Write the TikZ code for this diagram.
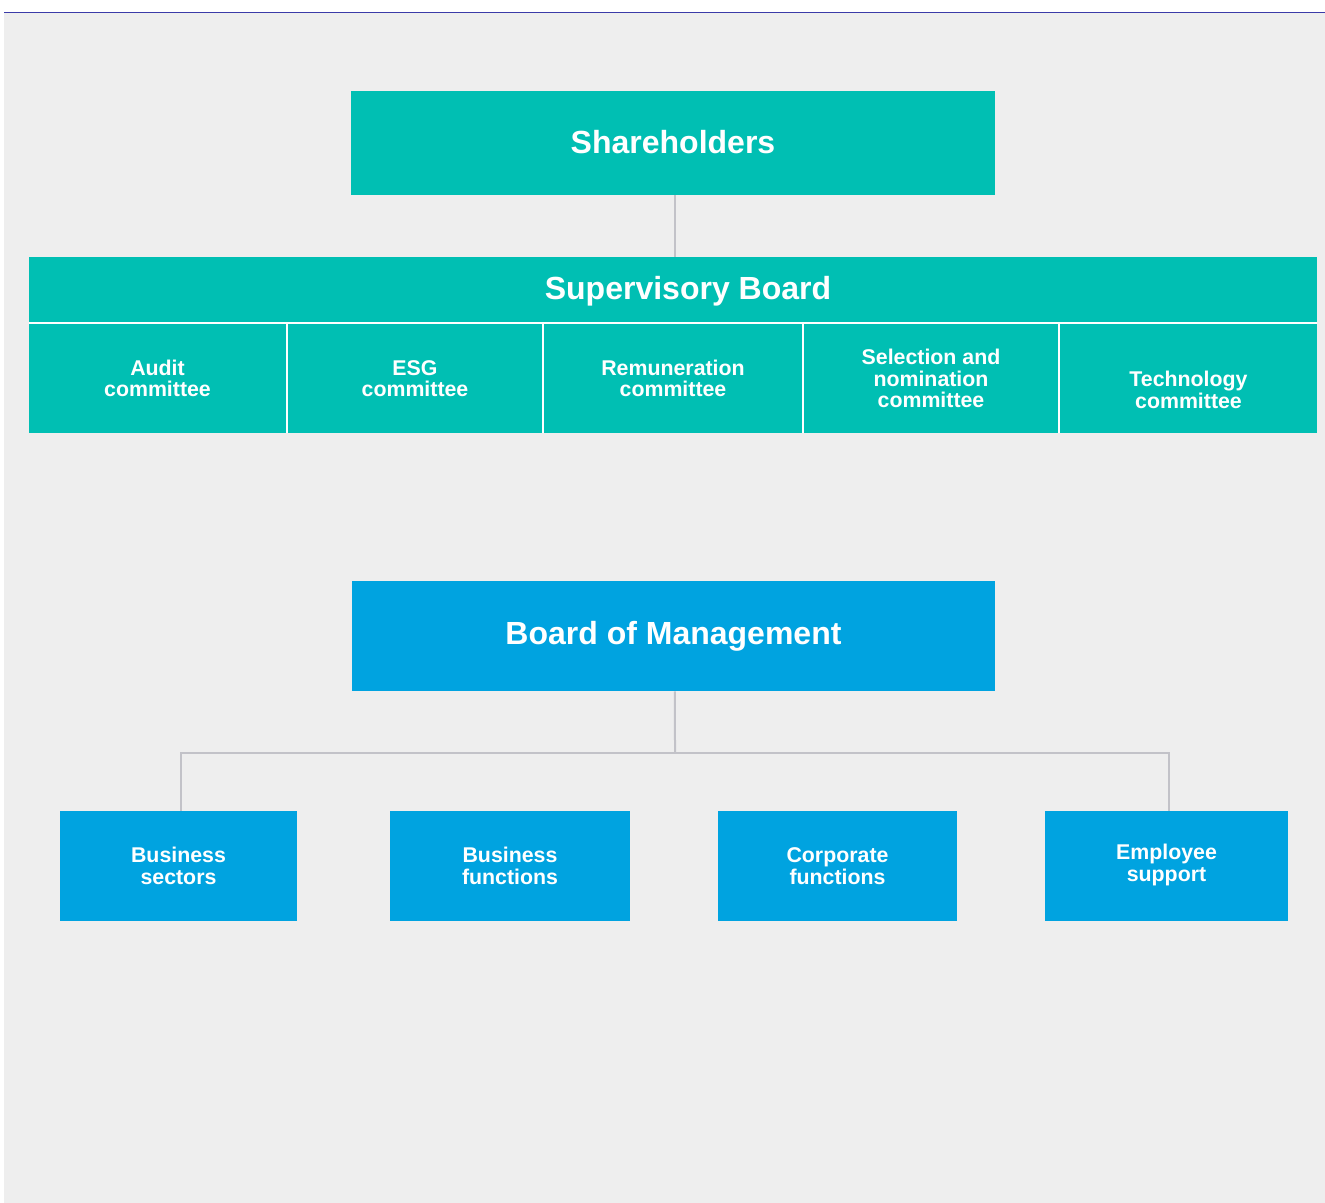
\documentclass[tikz,border=0pt]{standalone}
\usepackage{fontspec}
\setmainfont{Liberation Sans}
\definecolor{bgray}{HTML}{EEEEEE}
\definecolor{teal1}{HTML}{00BFB3}
\definecolor{blue1}{HTML}{00A3E0}
\definecolor{conn}{HTML}{C2C2C8}
\definecolor{rule}{HTML}{3B3BA8}
\begin{document}
\begin{tikzpicture}[x=0.75pt,y=-0.75pt,
  tbox/.style={fill=teal1,draw=none,inner sep=0pt,text=white,font=\bfseries,align=center},
  bbox/.style={fill=blue1,draw=none,inner sep=0pt,text=white,font=\bfseries,align=center},
  big/.style={font=\fontsize{24}{28}\selectfont\bfseries},
  small/.style={font=\fontsize{16}{16.2}\selectfont\bfseries},
  cline/.style={draw=conn,line width=1.5pt},
  sep/.style={draw=white,line width=1.5pt}]
\useasboundingbox (0,0) rectangle (1325,1203);
\fill[white] (0,0) rectangle (1325,1203);
\fill[bgray] (4,13) rectangle (1325,1203);
\draw[rule,line width=1pt] (4,12.5) -- (1325,12.5);

% Shareholders
\node[tbox,big,minimum width=483pt,minimum height=78pt] (sh) at (673,143) {\raisebox{1.5pt}{Shareholders}};

% Supervisory board
\node[tbox,minimum width=966pt,minimum height=48.75pt] (sb) at (673,289.5) {};
\node[text=white,big,inner sep=0pt] (sbt) at (688,291) {Supervisory Board};

\node[tbox,small,minimum width=192.75pt,minimum height=81.75pt] (c1) at (157.5,378.5) {Audit\\committee};
\node[tbox,small,minimum width=190.5pt,minimum height=81.75pt] (c2) at (415,378.5) {ESG\\committee};
\node[tbox,small,minimum width=193.5pt,minimum height=81.75pt] (c3) at (673,378.5) {Remuneration\\committee};
\node[tbox,small,minimum width=190.5pt,minimum height=81.75pt] (c4) at (931,378.5) {Selection and\\nomination\\committee};
\node[tbox,small,minimum width=192.75pt,minimum height=81.75pt] (c5) at (1188.5,378.5) {\strut\\Technology\\committee};

\draw[sep] (29,323) -- (1317,323);
\draw[sep] (287,323) -- (287,433);
\draw[sep] (543,323) -- (543,433);
\draw[sep] (803,323) -- (803,433);
\draw[sep] (1059,323) -- (1059,433);

\draw[cline] ([xshift=1.5pt]sh.south) -- ([xshift=1.5pt]sb.north);

% Board of management
\node[bbox,big,minimum width=482.25pt,minimum height=82.5pt] (bom) at (673.5,636) {\raisebox{-1pt}{Board of Management}};

\node[bbox,small,minimum width=177.75pt,minimum height=82.5pt] (bs) at (178.5,866) {Business\\sectors};
\node[bbox,small,minimum width=180pt,minimum height=82.5pt] (bf) at (510,866) {Business\\functions};
\node[bbox,small,minimum width=179.25pt,minimum height=82.5pt] (cf) at (837.5,866) {Corporate\\functions};
\node[bbox,small,minimum width=182.25pt,minimum height=82.5pt] (es) at (1166.5,866) {\raisebox{-1.5pt}{\begin{tabular}{@{}c@{}}Employee\\support\end{tabular}}};

\coordinate (hub) at (675,753);
\draw[cline] ([xshift=1.1pt]bom.south) -- (hub);
\draw[cline] ([xshift=1.9pt]bs.north) |- (hub) -| ([xshift=1.9pt]es.north);
\end{tikzpicture}
\end{document}
